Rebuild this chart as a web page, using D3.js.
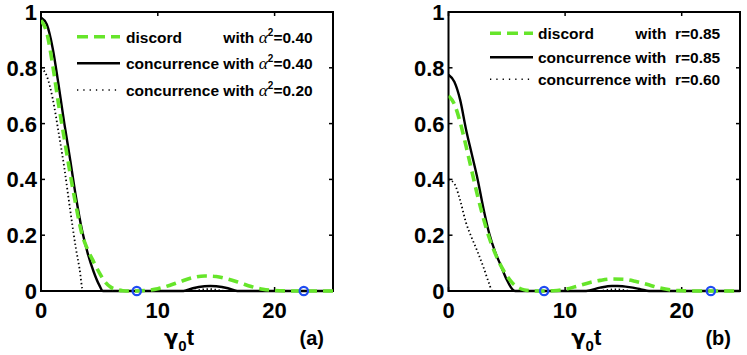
<!DOCTYPE html>
<html><head><meta charset="utf-8">
<script src="https://cdn.jsdelivr.net/npm/d3@7"></script>
<style>
html,body{margin:0;padding:0;background:#fff;}
svg{display:block;font-family:"Liberation Sans",Arial,Helvetica,sans-serif;}
</style></head>
<body><svg id="c" width="747" height="355"></svg>
<script>
// ---------- data ----------
const xTicks = [0, 10, 20];
const yTicks = [0, 0.2, 0.4, 0.6, 0.8, 1];
const yTickLabels = ["0", "0.2", "0.4", "0.6", "0.8", "1"];
const zeroPoints = [8.2, 22.5];

// panel (a)
const discordAT = [0,0.5,1,1.5,2,2.5,3,3.5,4,4.5,5,5.5,6,6.5,7,7.5,8.2,9,10,11,12,13,14,15,16,17,18,19,20,21,22.5,23.5,25];
const discordA  = [0.97,0.925,0.81,0.67,0.545,0.42,0.305,0.205,0.148,0.105,0.065,0.032,0.013,0.005,0.001,0,0,0.002,0.008,0.02,0.035,0.048,0.054,0.052,0.043,0.03,0.016,0.006,0.002,0.0005,0,0,0];
const concA40T  = [0,0.5,1,1.5,2,2.5,3,3.5,4,4.5,5,5.3,8,12.2,13,14,14.5,15,16,16.8,20,25];
const concA40   = [0.98,0.955,0.87,0.74,0.60,0.47,0.335,0.22,0.135,0.07,0.02,0,0,0,0.01,0.017,0.018,0.017,0.01,0,0,0];
const concA20T  = [0,0.5,1,1.5,2,2.5,3,3.3,3.6,8,12.8,14.3,16,20,25];
const concA20   = [0.80,0.77,0.69,0.57,0.44,0.29,0.15,0.08,0,0,0,0.007,0,0,0];

// panel (b)
const discordBT = [0,0.5,1,1.5,2,2.5,3,3.5,4,4.5,5,5.5,6,6.5,7,7.5,8.2,9,10,11,12,13,14,15,16,17,18,19,20,21,22.5,23.5,25];
const discordB  = [0.70,0.67,0.605,0.52,0.43,0.34,0.26,0.19,0.135,0.09,0.055,0.028,0.012,0.004,0.001,0,0,0.001,0.006,0.017,0.029,0.038,0.043,0.042,0.035,0.024,0.012,0.004,0.001,0,0,0,0];
const concB85T  = [0,0.5,1,1.5,2,2.5,3,3.5,4,4.5,5,5.5,5.7,8,11.8,13,14,14.5,15.5,16.5,17.2,20,25];
const concB85   = [0.775,0.75,0.685,0.58,0.49,0.40,0.295,0.205,0.14,0.09,0.04,0.005,0,0,0,0.012,0.018,0.018,0.014,0.006,0,0,0];
const concB60T  = [0,0.5,1,1.5,2,2.5,3,3.5,3.75,8,12.8,14.3,16,20,25];
const concB60   = [0.40,0.385,0.325,0.245,0.19,0.14,0.085,0.025,0,0,0,0.006,0,0,0];

const NB = "\u00a0";
const legendA = [
  {name:"discord", tail:["with ", "α", "2", "=0.40"], style:"dash"},
  {name:"concurrence with ", tail:["", "α", "2", "=0.40"], style:"solid"},
  {name:"concurrence with ", tail:["", "α", "2", "=0.20"], style:"dot"}
];
const legendB = [
  {name:"discord", tail:["with"+NB+NB+"r=0.85"], style:"dash"},
  {name:"concurrence with"+NB+NB, tail:["r=0.85"], style:"solid"},
  {name:"concurrence with"+NB+NB, tail:["r=0.60"], style:"dot"}
];

// ---------- drawing ----------
const svg = d3.select("#c");
const GREEN = "#66e52a", BLUE = "#1f4cf2";
const styles = {
  dash:  {stroke:GREEN, width:3.6, dash:"10,6"},
  solid: {stroke:"#000", width:2.4, dash:null},
  dot:   {stroke:"#000", width:1.8, dash:"1.4,2.6"}
};

const panels = [
  {x0:41, x1:333, tag:"(a)", legend:legendA, legX:[77,120], legTextX:126, legY:[36.7,63.3,90], legBase:5.8,
   series:[["dot",concA20T,concA20],["solid",concA40T,concA40],["dash",discordAT,discordA]]},
  {x0:448.5, x1:740, tag:"(b)", legend:legendB, legX:[490,533], legTextX:538, legY:[33.3,57.3,79.3], legBase:5.8,
   series:[["dot",concB60T,concB60],["solid",concB85T,concB85],["dash",discordBT,discordB]]}
];
const yTop = 12, yBot = 291;

panels.forEach(p => {
  const x = d3.scaleLinear().domain([0,25]).range([p.x0, p.x1]);
  const y = d3.scaleLinear().domain([0,1]).range([yBot, yTop]);
  const g = svg.append("g");

  g.append("rect").attr("x",p.x0).attr("y",yTop).attr("width",p.x1-p.x0).attr("height",yBot-yTop)
    .attr("fill","none").attr("stroke","#000").attr("stroke-width",2);

  yTicks.forEach(v => {
    g.append("line").attr("x1",p.x0).attr("x2",p.x0+4).attr("y1",y(v)).attr("y2",y(v)).attr("stroke","#000").attr("stroke-width",1.5);
    g.append("line").attr("x1",p.x1).attr("x2",p.x1-4).attr("y1",y(v)).attr("y2",y(v)).attr("stroke","#000").attr("stroke-width",1.5);
  });
  xTicks.forEach(v => {
    g.append("line").attr("x1",x(v)).attr("x2",x(v)).attr("y1",yBot).attr("y2",yBot-4).attr("stroke","#000").attr("stroke-width",1.5);
    g.append("line").attr("x1",x(v)).attr("x2",x(v)).attr("y1",yTop).attr("y2",yTop+4).attr("stroke","#000").attr("stroke-width",1.5);
  });

  yTicks.forEach((v,i) => {
    g.append("text").attr("x",p.x0-4).attr("y",y(v)+8).attr("text-anchor","end")
      .attr("font-size",22).attr("font-weight","bold").text(yTickLabels[i]);
  });
  xTicks.forEach(v => {
    g.append("text").attr("x",x(v)).attr("y",318).attr("text-anchor","middle")
      .attr("font-size",22).attr("font-weight","bold").text(v);
  });

  const cx = (p.x0+p.x1)/2 - 8;
  const xl = g.append("text").attr("x",cx).attr("y",345).attr("text-anchor","middle")
    .attr("font-size",22).attr("font-weight","bold");
  xl.append("tspan").attr("font-family","'DejaVu Sans',sans-serif").attr("font-size",21).text("γ");
  xl.append("tspan").attr("font-size",15).attr("dy",6).text("0");
  xl.append("tspan").attr("dy",-6).text("t");

  g.append("text").attr("x",p.x1-9).attr("y",345).attr("text-anchor","end")
    .attr("font-size",20).attr("font-weight","bold").text(p.tag);

  const clip = "clip-"+p.tag.replace(/[()]/g,"");
  svg.append("clipPath").attr("id",clip).append("rect")
    .attr("x",p.x0).attr("y",yTop-3).attr("width",p.x1-p.x0).attr("height",yBot-yTop+6);
  p.series.forEach(([st, ts, vs]) => {
    const s = styles[st];
    const line = d3.line().x(d=>x(d[0])).y(d=>y(d[1])).curve(d3.curveMonotoneX);
    g.append("path").datum(ts.map((t,i)=>[t,vs[i]])).attr("d",line)
      .attr("clip-path",`url(#${clip})`)
      .attr("fill","none").attr("stroke",s.stroke).attr("stroke-width",s.width)
      .attr("stroke-dasharray",s.dash);
  });

  zeroPoints.forEach(t => {
    g.append("circle").attr("cx",x(t)).attr("cy",y(0)).attr("r",4.2)
      .attr("fill","none").attr("stroke",BLUE).attr("stroke-width",2.2);
  });

  p.legend.forEach((e,i) => {
    const s = styles[e.style];
    const ly = p.legY[i];
    g.append("line").attr("x1",p.legX[0]).attr("x2",p.legX[1]).attr("y1",ly).attr("y2",ly)
      .attr("stroke",s.stroke).attr("stroke-width",e.style==="dot"?1.6:s.width)
      .attr("stroke-dasharray",e.style==="dash"?"11,6":(e.style==="dot"?"1.3,5":null));
  });
  let rightEdge = 0;
  const fs = 15.5;
  function addTail(t, parts){
    if (parts.length === 1) { t.append("tspan").text(parts[0]); return; }
    if (parts[0]) t.append("tspan").text(parts[0]);
    t.append("tspan").attr("font-family","'Liberation Serif',serif").attr("font-style","italic").attr("font-weight","normal").attr("font-size",fs+2).text(parts[1]);
    t.append("tspan").attr("font-size",10).attr("dy",-7).text(parts[2]);
    t.append("tspan").attr("dy",7).text(parts[3]);
  }
  p.legend.forEach((e,i) => {
    if (i===0) return;
    const t = g.append("text").attr("x",p.legTextX).attr("y",p.legY[i]+p.legBase)
      .attr("font-size",fs).attr("font-weight","bold");
    t.append("tspan").text(e.name);
    addTail(t, e.tail);
    rightEdge = Math.max(rightEdge, p.legTextX + t.node().getComputedTextLength());
  });
  const e0 = p.legend[0];
  g.append("text").attr("x",p.legTextX).attr("y",p.legY[0]+p.legBase)
    .attr("font-size",fs).attr("font-weight","bold").text(e0.name);
  const t0 = g.append("text").attr("x",rightEdge).attr("y",p.legY[0]+p.legBase).attr("text-anchor","end")
    .attr("font-size",fs).attr("font-weight","bold");
  addTail(t0, e0.tail);
});
</script></body></html>
